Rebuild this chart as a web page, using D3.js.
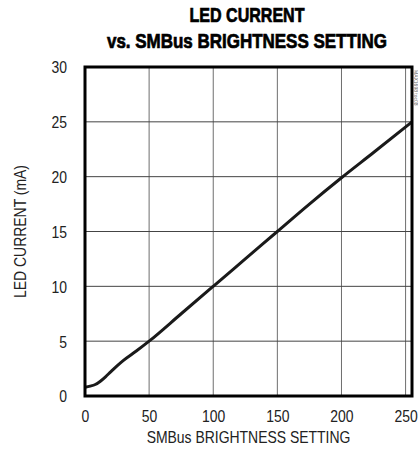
<!DOCTYPE html>
<html lang="en">
<head>
<meta charset="UTF-8">
<title>LED Current vs. SMBus Brightness Setting</title>
<script src="https://d3js.org/d3.v7.min.js"></script>
<style>
    body { margin: 0; background: #fff; }
    svg text { font-family: 'Liberation Sans Narrow', 'Arial Narrow', 'Liberation Sans', sans-serif; fill: #222; }
</style>
</head>
<body>
<svg id="chart" width="418" height="458"></svg>
<script>
    // brightness setting (0-255) vs LED current (mA)
    var setting = [0, 4, 8, 12, 16, 20, 25, 30, 40, 50, 75, 100, 125, 150, 175, 200, 225, 255];
    var current = [0.8, 0.9, 1.05, 1.35, 1.75, 2.2, 2.75, 3.25, 4.1, 5.0, 7.5, 10.0, 12.5, 15.0, 17.5, 19.9, 22.2, 25.0];
    var xTicks = [0, 50, 100, 150, 200, 250];
    var yTicks = [0, 5, 10, 15, 20, 25, 30];

    var margin = {top: 67, right: 6, bottom: 62, left: 85};
    var W = 418, H = 458;
    var width = W - margin.left - margin.right;
    var height = H - margin.top - margin.bottom;

    var svg = d3.select('#chart');
    var g = svg.append('g').attr('transform', 'translate(' + margin.left + ',' + margin.top + ')');

    var x = d3.scaleLinear().domain([0, 255]).range([0, width]);
    var y = d3.scaleLinear().domain([0, 30]).range([height, 0]);

    // squeeze text horizontally so it looks like a narrow face
    function narrow(sel, k) {
        sel.each(function () {
            var len = this.getComputedTextLength();
            d3.select(this).attr('textLength', len * k).attr('lengthAdjust', 'spacingAndGlyphs');
        });
    }

    // grid
    g.selectAll('.vgrid').data(xTicks.filter(function (d) { return d > 0; }))
        .enter().append('line')
        .attr('x1', function (d) { return x(d); }).attr('x2', function (d) { return x(d); })
        .attr('y1', 0).attr('y2', height)
        .attr('stroke', '#6e6e6e').attr('stroke-width', 1);
    g.selectAll('.hgrid').data(yTicks.filter(function (d) { return d > 0 && d < 30; }))
        .enter().append('line')
        .attr('y1', function (d) { return y(d); }).attr('y2', function (d) { return y(d); })
        .attr('x1', 0).attr('x2', width)
        .attr('stroke', '#444').attr('stroke-width', 1);

    // axes labels (ticks hidden, only text)
    var xAxis = g.append('g').attr('transform', 'translate(0,' + height + ')')
        .call(d3.axisBottom(x).tickValues(xTicks).tickSize(0).tickPadding(14));
    var yAxis = g.append('g')
        .call(d3.axisLeft(y).tickValues(yTicks).tickSize(0).tickPadding(18));
    [xAxis, yAxis].forEach(function (a) {
        a.select('.domain').remove();
        a.selectAll('text').attr('font-size', 17).attr('font-family', null).style('fill', '#222');
        narrow(a.selectAll('text'), 0.82);
    });
    yAxis.selectAll('text').attr('dy', '0.35em');

    // curve
    var line = d3.line()
        .x(function (d, i) { return x(setting[i]); })
        .y(function (d) { return y(d); })
        .curve(d3.curveMonotoneX);
    g.append('path').datum(current)
        .attr('d', line)
        .attr('fill', 'none')
        .attr('stroke', '#1a1a1a')
        .attr('stroke-width', 3);

    // frame
    g.append('rect').attr('x', 0).attr('y', 0).attr('width', width).attr('height', height)
        .attr('fill', 'none').attr('stroke', '#000').attr('stroke-width', 3);

    // titles (heavy condensed look)
    svg.append('text').attr('x', 247).attr('y', 22).attr('text-anchor', 'middle')
        .attr('font-size', 20).attr('font-weight', 'bold')
        .attr('textLength', 115).attr('lengthAdjust', 'spacingAndGlyphs')
        .style('fill', '#000').style('stroke', '#000').style('stroke-width', 0.7)
        .text('LED CURRENT');
    svg.append('text').attr('x', 247).attr('y', 48).attr('text-anchor', 'middle')
        .attr('font-size', 20).attr('font-weight', 'bold')
        .attr('textLength', 280).attr('lengthAdjust', 'spacingAndGlyphs')
        .style('fill', '#000').style('stroke', '#000').style('stroke-width', 0.7)
        .text('vs. SMBus BRIGHTNESS SETTING');

    var xl = svg.append('text').attr('x', margin.left + width / 2).attr('y', 443)
        .attr('text-anchor', 'middle').attr('font-size', 17)
        .text('SMBus BRIGHTNESS SETTING');
    narrow(xl, 0.82);
    var yl = svg.append('text')
        .attr('transform', 'translate(26,' + (margin.top + height / 2) + ') rotate(-90)')
        .attr('text-anchor', 'middle').attr('font-size', 17)
        .text('LED CURRENT (mA)');
    narrow(yl, 0.82);

    // figure id
    svg.append('text')
        .attr('transform', 'translate(414,70) rotate(90)')
        .attr('font-size', 5).style('fill', '#666')
        .text('MAX1698 toc08');
</script>
</body>
</html>
